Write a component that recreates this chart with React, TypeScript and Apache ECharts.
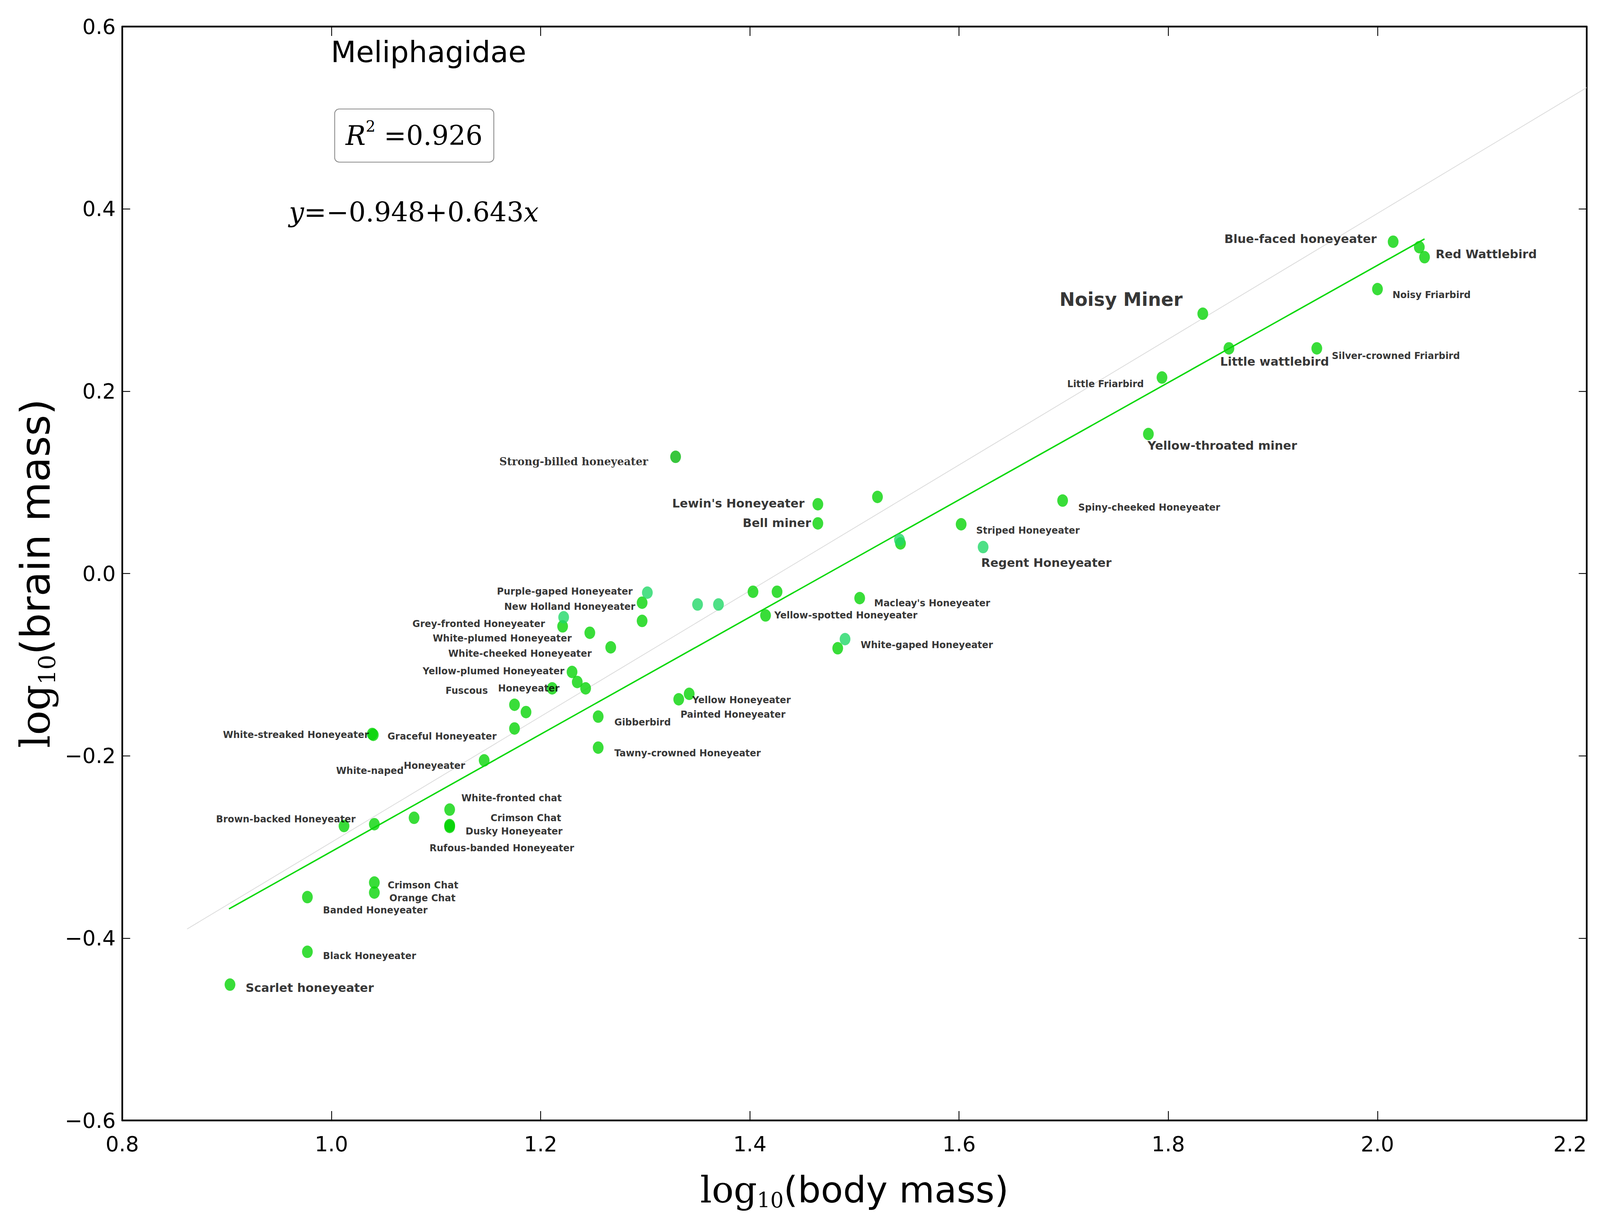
import React, { useEffect, useRef, useState } from "react";
import * as echarts from "echarts";

// ---- axes ----
const X_MIN = 0.8;
const X_MAX = 2.2;
const X_STEP = 0.2;
const Y_MIN = -0.6;
const Y_MAX = 0.6;
const Y_STEP = 0.2;

// ---- bright green points ----
const GREEN_NAMES = [
  "Scarlet honeyeater", "Black Honeyeater", "Banded Honeyeater", "Crimson Chat", "Orange Chat",
  "Brown-backed Honeyeater", "", "", "White-fronted chat", "Crimson Chat",
  "Dusky Honeyeater", "Rufous-banded Honeyeater", "White-naped Honeyeater", "White-streaked Honeyeater", "Graceful Honeyeater",
  "", "", "", "Fuscous Honeyeater", "Yellow-plumed Honeyeater",
  "", "", "Grey-fronted Honeyeater", "White-plumed Honeyeater", "White-cheeked Honeyeater",
  "New Holland Honeyeater", "", "Gibberbird", "Tawny-crowned Honeyeater", "Painted Honeyeater",
  "Yellow Honeyeater", "", "", "Yellow-spotted Honeyeater", "Lewin's Honeyeater",
  "Bell miner", "", "", "Macleay's Honeyeater", "",
  "Striped Honeyeater", "Spiny-cheeked Honeyeater", "Yellow-throated miner", "Little Friarbird", "Noisy Miner",
  "Little wattlebird", "Silver-crowned Friarbird", "Noisy Friarbird", "Blue-faced honeyeater", "",
  "Red Wattlebird",
];
const GREEN_BODY = [
  0.903, 0.977, 0.977, 1.041, 1.041,
  1.012, 1.041, 1.079, 1.113, 1.113,
  1.113, 1.113, 1.146, 1.039, 1.040,
  1.175, 1.186, 1.175, 1.211, 1.230,
  1.235, 1.243, 1.221, 1.247, 1.267,
  1.297, 1.297, 1.255, 1.255, 1.332,
  1.342, 1.403, 1.426, 1.415, 1.465,
  1.465, 1.522, 1.544, 1.505, 1.484,
  1.602, 1.699, 1.781, 1.794, 1.833,
  1.858, 1.942, 2.000, 2.015, 2.040,
  2.045,
];
const GREEN_BRAIN = [
  -0.451, -0.415, -0.355, -0.339, -0.350,
  -0.277, -0.275, -0.268, -0.259, -0.276,
  -0.277, -0.278, -0.205, -0.176, -0.177,
  -0.144, -0.152, -0.170, -0.126, -0.108,
  -0.119, -0.126, -0.058, -0.065, -0.081,
  -0.032, -0.052, -0.157, -0.191, -0.138,
  -0.132, -0.020, -0.020, -0.046, 0.076,
  0.055, 0.084, 0.033, -0.027, -0.082,
  0.054, 0.080, 0.153, 0.215, 0.285,
  0.247, 0.247, 0.312, 0.364, 0.358,
  0.347,
];

// ---- blue-green points ----
const TEAL_NAMES = ["Purple-gaped Honeyeater", "", "", "", "", "Regent Honeyeater", "White-gaped Honeyeater"];
const TEAL_BODY = [1.302, 1.222, 1.350, 1.370, 1.543, 1.623, 1.491];
const TEAL_BRAIN = [-0.021, -0.048, -0.034, -0.034, 0.037, 0.029, -0.072];

// ---- dark green point ----
const DARK_NAMES = ["Strong-billed honeyeater"];
const DARK_BODY = [1.329];
const DARK_BRAIN = [0.128];

// ---- lines ----
const REFERENCE_LINE_X = [0.862, 2.2];
const REFERENCE_LINE_Y = [-0.39, 0.533];
const FIT_LINE_X = [0.902, 2.045];
const FIT_LINE_Y = [-0.368, 0.367];

// ---- annotation texts ----
const TITLE = "Meliphagidae";
const R2_VALUE = "0.926";
const FIT_INTERCEPT = "−0.948";
const FIT_SLOPE = "0.643";

// ---- label layout (style only): [align, dx, dy, preset], px at 5641x3151 design ----
type Lay = [string, number, number, string] | null;
const GREEN_LAYOUT: Lay[] = [
  ["left", 55, 8, "big"], ["left", 55, 11, "small"], ["left", 55, 34, "small"], ["left", 47, 7, "small"], ["left", 53, 14, "small"],
  ["right", 41, -17, "small"], null, null, ["left", 41, -29, "small"], ["left", 144, -18, "small"],
  ["left", 56, 14, "small"], ["left", -71, 54, "small"], ["right", -67, 14, "naped"], ["right", -12, 2, "small"], ["left", 50, 4, "small"],
  null, null, null, ["right", 26, 0, "fuscous"], ["right", -27, -2, "small"],
  null, null, ["right", -62, -6, "small"], ["right", -64, 14, "small"], ["right", -67, 16, "small"],
  ["right", -24, 10, "small"], null, ["left", 57, 15, "small"], ["left", 57, 14, "small"], ["left", 6, 39, "small"],
  ["left", 11, 16, "small"], null, null, ["left", 31, 0, "small"], ["right", -47, -2, "big"],
  ["right", -24, -1, "big"], null, null, ["left", 51, 13, "small"], null,
  ["left", 53, 16, "small"], ["left", 55, 18, "small"], ["left", -3, 29, "big"], ["right", -64, 17, "small"], ["right", -71, -37, "huge"],
  ["left", -31, 34, "big"], ["left", 53, 19, "small"], ["left", 53, 15, "small"], ["right", -58, -7, "big"], null,
  ["left", 39, -8, "big"],
];
const TEAL_LAYOUT: Lay[] = [
  ["right", -52, -3, "small"], null, null, null, null, ["left", -7, 40, "big"], ["left", 55, 15, "small"],
];
const DARK_LAYOUT: Lay[] = [["right", -97, 12, "serif"]];

const DESIGN_W = 5641;
const DESIGN_H = 3151;
const SANS = "DejaVu Sans";
const SERIF = "DejaVu Serif";

function buildOption(sx: number, sy: number): any {
  const s = Math.min(sx, sy);
  const f = (v: number) => v * s;

  const smallFont = { fontFamily: SANS, fontWeight: "bold", fontSize: f(33), color: "#000" };
  const PRESETS: Record<string, any> = {
    small: { ...smallFont },
    big: { ...smallFont, fontSize: f(42) },
    huge: { ...smallFont, fontSize: f(65) },
    serif: { fontFamily: SERIF, fontWeight: "bold", fontSize: f(37.5), color: "#000" },
    naped: {
      ...smallFont,
      formatter: "{a|White-naped}{b|Honeyeater}",
      rich: { a: { ...smallFont, padding: [26 * sy, 0, 0, 0] }, b: { ...smallFont } },
    },
    fuscous: {
      ...smallFont,
      formatter: "{a|Fuscous}{b|Honeyeater}",
      rich: { a: { ...smallFont, padding: [12 * sy, 36 * sx, 0, 0] }, b: { ...smallFont } },
    },
  };

  const buildPoints = (names: string[], xs: number[], ys: number[], layout: Lay[]) =>
    names.map((name, i) => {
      const item: any = { name, value: [xs[i], ys[i]] };
      const lay = layout[i];
      if (lay) {
        const [align, dx, dy, preset] = lay;
        item.label = {
          show: true,
          position: "inside",
          align,
          verticalAlign: "middle",
          offset: [dx * sx, dy * sy],
          textBorderWidth: 0,
          textBorderColor: "transparent",
          formatter: "{b}",
          ...PRESETS[preset],
        };
      }
      return item;
    });

  const tickFmt = (v: number) => {
    const t = Math.abs(v).toFixed(1);
    return v < -1e-9 ? "−" + t : t;
  };

  const tickFont = f(74);
  const axisLineStyle = { color: "#000", width: f(6) };
  const tickStyle = { color: "#000", width: f(3) };
  const tickLabel = { fontFamily: SANS, fontSize: tickFont, color: "#000" };

  // x-axis title (horizontal: sized by width)
  const xMain = f(128);
  const xSub = f(74);
  const xRich = {
    l: { fontFamily: SERIF, fontSize: xMain, color: "#000" },
    s: { fontFamily: SERIF, fontSize: xSub, color: "#000", padding: [xSub, 0, 0, 0] },
    t: { fontFamily: SANS, fontSize: xMain, color: "#000" },
  };
  // y-axis title (vertical: sized by height)
  const yMain = 104 * sy;
  const ySub = 60 * sy;
  const yRich = {
    l: { fontFamily: SERIF, fontSize: yMain, color: "#000" },
    s: { fontFamily: SERIF, fontSize: ySub, color: "#000", padding: [ySub, 0, 0, 0] },
    t: { fontFamily: SANS, fontSize: yMain, color: "#000" },
  };

  const scatterBase = {
    type: "scatter",
    symbol: "circle",
    symbolSize: [38 * sx, 32 * sy],
    silent: true,
    label: { show: false },
    emphasis: { disabled: true },
  };

  return {
    animation: false,
    backgroundColor: "#ffffff",
    grid: {
      left: 431 * sx,
      right: 47 * sx,
      top: 68 * sy,
      bottom: 283 * sy,
      containLabel: false,
      outerBoundsMode: "none",
    },
    xAxis: [
      {
        type: "value",
        position: "bottom",
        min: X_MIN,
        max: X_MAX,
        interval: X_STEP,
        axisLine: { show: true, onZero: false, lineStyle: axisLineStyle },
        axisTick: { show: true, inside: true, length: 24 * sy, lineStyle: tickStyle },
        axisLabel: {
          ...tickLabel,
          margin: Math.max(4, 60 * sy - tickFont / 2),
          formatter: tickFmt,
          showMinLabel: true,
          showMaxLabel: true,
          alignMaxLabel: "right",
        },
        splitLine: { show: false },
        name: "{l|log}{s|10}{t|(body mass)}",
        nameLocation: "middle",
        nameGap: 178 * sy - xSub,
        nameTextStyle: { rich: xRich },
      },
      {
        type: "value",
        position: "top",
        min: X_MIN,
        max: X_MAX,
        interval: X_STEP,
        axisLine: { show: true, onZero: false, lineStyle: axisLineStyle },
        axisTick: { show: true, inside: true, length: 24 * sy, lineStyle: tickStyle },
        axisLabel: { show: false },
        splitLine: { show: false },
      },
    ],
    yAxis: [
      {
        type: "value",
        position: "left",
        min: Y_MIN,
        max: Y_MAX,
        interval: Y_STEP,
        axisLine: { show: true, onZero: false, lineStyle: axisLineStyle },
        axisTick: { show: true, inside: true, length: 28 * sx, lineStyle: tickStyle },
        axisLabel: { ...tickLabel, margin: 23 * sx, formatter: tickFmt, showMinLabel: true, showMaxLabel: true },
        splitLine: { show: false },
        name: "{l|log}{s|10}{t|(brain mass)}",
        nameLocation: "middle",
        nameGap: (431 - 126) * sx - ySub,
        nameTextStyle: { rich: yRich },
      },
      {
        type: "value",
        position: "right",
        min: Y_MIN,
        max: Y_MAX,
        interval: Y_STEP,
        axisLine: { show: true, onZero: false, lineStyle: axisLineStyle },
        axisTick: { show: true, inside: true, length: 28 * sx, lineStyle: tickStyle },
        axisLabel: { show: false },
        splitLine: { show: false },
      },
    ],
    series: [
      {
        type: "line",
        name: "reference",
        data: REFERENCE_LINE_X.map((x, i) => [x, REFERENCE_LINE_Y[i]]),
        showSymbol: false,
        silent: true,
        z: 1,
        lineStyle: { color: "#d9d9d9", width: f(2.5) },
      },
      {
        type: "line",
        name: "fit",
        data: FIT_LINE_X.map((x, i) => [x, FIT_LINE_Y[i]]),
        showSymbol: false,
        silent: true,
        z: 2,
        lineStyle: { color: "#0cd80c", width: f(5) },
      },
      {
        ...scatterBase,
        name: "Meliphagidae",
        z: 3,
        itemStyle: { color: "#08d408" },
        data: buildPoints(GREEN_NAMES, GREEN_BODY, GREEN_BRAIN, GREEN_LAYOUT),
      },
      {
        ...scatterBase,
        name: "Meliphagidae (b)",
        z: 4,
        itemStyle: { color: "#22d868" },
        data: buildPoints(TEAL_NAMES, TEAL_BODY, TEAL_BRAIN, TEAL_LAYOUT),
      },
      {
        ...scatterBase,
        name: "Meliphagidae (c)",
        z: 4,
        itemStyle: { color: "#06b80c" },
        data: buildPoints(DARK_NAMES, DARK_BODY, DARK_BRAIN, DARK_LAYOUT),
      },
    ],
    graphic: [
      {
        type: "text",
        x: 1511 * sx,
        y: 133 * sy,
        z: 10,
        style: { text: TITLE, fontFamily: SANS, fontSize: f(103), fill: "#000", align: "center", verticalAlign: "middle" },
      },
      {
        type: "rect",
        z: 10,
        shape: { x: 1180 * sx, y: 279 * sy, width: 561 * sx, height: 136 * sy, r: f(16) },
        style: { fill: "#ffffff", stroke: "#8c8c8c", lineWidth: f(3) },
      },
      {
        type: "text",
        x: 1460 * sx,
        y: 347 * sy,
        z: 11,
        style: {
          text: "{i|R}{p|2}{n| =" + R2_VALUE + "}",
          align: "center",
          verticalAlign: "middle",
          fill: "#000",
          rich: {
            i: { fontFamily: SERIF, fontStyle: "italic", fontSize: f(94), fill: "#000" },
            p: { fontFamily: SERIF, fontSize: f(54), fill: "#000", padding: [0, 0, f(64), 0] },
            n: { fontFamily: SERIF, fontSize: f(94), fill: "#000" },
          },
        },
      },
      {
        type: "text",
        x: 1459 * sx,
        y: 543 * sy,
        z: 10,
        style: {
          text: "{i|y}{n|=" + FIT_INTERCEPT + "+" + FIT_SLOPE + "}{i|x}",
          align: "center",
          verticalAlign: "middle",
          fill: "#000",
          rich: {
            i: { fontFamily: SERIF, fontStyle: "italic", fontSize: f(94), fill: "#000" },
            n: { fontFamily: SERIF, fontSize: f(94), fill: "#000" },
          },
        },
      },
    ],
  };
}

export default function App() {
  const ref = useRef<HTMLDivElement>(null);
  const [size] = useState(() => ({
    w: typeof window !== "undefined" ? window.innerWidth : DESIGN_W,
    h: typeof window !== "undefined" ? window.innerHeight : DESIGN_H,
  }));

  useEffect(() => {
    document.body.style.margin = "0";
    document.body.style.overflow = "hidden";
    if (!ref.current) return;
    const chart = echarts.init(ref.current, null, { renderer: "svg" });
    chart.setOption(buildOption(size.w / DESIGN_W, size.h / DESIGN_H));
    return () => chart.dispose();
  }, [size]);

  return <div ref={ref} style={{ width: size.w, height: size.h, background: "#fff" }} />;
}
